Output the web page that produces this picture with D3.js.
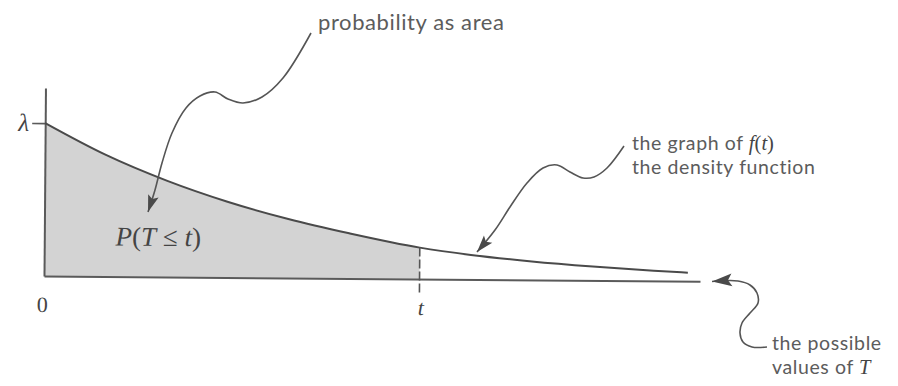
<!DOCTYPE html>
<html>
<head>
<meta charset="utf-8">
<script src="https://cdn.jsdelivr.net/npm/d3@7"></script>
<style>
  html, body { margin: 0; padding: 0; background: #fff; }
  svg { display: block; }
  .sans { font-family: Lato, "Open Sans", sans-serif; fill: #5c5c5c; letter-spacing: 0.6px; }
  .math { font-family: "Liberation Serif", "DejaVu Serif", serif; fill: #444; letter-spacing: 0; }
</style>
</head>
<body>
<svg id="chart" width="898" height="386"></svg>
<script>
// Density curve f(t) sampled along the time axis (λ = 1 at t = 0)
const curveT = [0, 0.25, 0.5, 0.75, 1.0, 1.25, 1.54, 1.75, 2.0, 2.25, 2.5, 2.64];
const curveF = [1.00, 0.795, 0.63, 0.495, 0.385, 0.295, 0.205, 0.16, 0.12, 0.09, 0.066, 0.055];
// The chosen time t that bounds the shaded probability
const tMark = 1.54;
// Axis extents
const tDomain = [0, 2.69];
const fDomain = [0, 1.23];
const lambdaValue = 1;

const svg = d3.select("#chart");

const x = d3.scaleLinear().domain(tDomain).range([44, 700]);
const y = d3.scaleLinear().domain(fDomain).range([276, 88]);

const points = curveT.map((t, i) => ({ t, f: curveF[i] }));
const shaded = points.filter(d => d.t <= tMark);
const fAtMark = curveF[curveT.indexOf(tMark)];

// Arrowhead markers
const defs = svg.append("defs");
function marker(id, len, half) {
  defs.append("marker")
    .attr("id", id)
    .attr("markerUnits", "userSpaceOnUse")
    .attr("viewBox", `${-len - 1} ${-half - 1} ${len + 2} ${2 * half + 2}`)
    .attr("refX", 0).attr("refY", 0)
    .attr("markerWidth", len + 2).attr("markerHeight", 2 * half + 2)
    .attr("orient", "auto")
    .append("path")
    .attr("d", `M0,0 L${-len},${-half} L${-len * 0.8},0 L${-len},${half} Z`)
    .attr("fill", "#4a4a4a");
}
marker("headA", 17, 5.5);
marker("headB", 20, 6.5);

// The plot sits on a very slightly tilted baseline
const plot = svg.append("g").attr("transform", `rotate(0.45, ${x(0)}, ${y(0)})`);

// Shaded area P(T <= t)
plot.append("path")
  .datum(shaded)
  .attr("d", d3.area().x(d => x(d.t)).y0(y(0)).y1(d => y(d.f)).curve(d3.curveMonotoneX))
  .attr("fill", "#d3d3d3");

// Vertical axis with the λ tick
const yAxis = plot.append("g")
  .attr("transform", `translate(${x(0)},0)`)
  .call(d3.axisLeft(y).tickValues([lambdaValue]).tickFormat(() => "λ").tickSize(13).tickSizeOuter(0).tickPadding(3));
yAxis.select(".domain").attr("stroke", "#5a5a5a").attr("stroke-width", 2);
yAxis.selectAll(".tick line").attr("stroke", "#5a5a5a").attr("stroke-width", 1.6);
yAxis.selectAll(".tick text")
  .attr("class", "math")
  .attr("font-size", 25).attr("font-style", "italic")
  .attr("fill", "#444")
  .attr("dy", "0.3em");

// Horizontal axis with 0 and t labels
const xAxis = plot.append("g")
  .attr("transform", `translate(0,${y(0)})`)
  .call(d3.axisBottom(x).tickValues([0, tMark]).tickFormat(d => d === 0 ? "0" : "t").tickSize(0).tickSizeOuter(0));
xAxis.select(".domain").attr("stroke", "#5a5a5a").attr("stroke-width", 2);
xAxis.selectAll(".tick text")
  .attr("class", "math")
  .attr("fill", "#444")
  .attr("y", 0).attr("dy", 0)
  .attr("font-size", 22)
  .attr("font-style", d => d === 0 ? "normal" : "italic")
  .attr("transform", d => d === 0 ? "translate(-2,36)" : "translate(1,36)");

// Density curve
plot.append("path")
  .datum(points)
  .attr("d", d3.line().x(d => x(d.t)).y(d => y(d.f)).curve(d3.curveMonotoneX))
  .attr("fill", "none")
  .attr("stroke", "#4a4a4a")
  .attr("stroke-width", 2);

// Dashed marker at t
plot.append("line")
  .attr("x1", x(tMark)).attr("x2", x(tMark))
  .attr("y1", y(fAtMark)).attr("y2", y(0) + 14)
  .attr("stroke", "#555").attr("stroke-width", 1.6)
  .attr("stroke-dasharray", "9,3");

// P(T ≤ t) label inside the shaded region
const pLabel = plot.append("text").attr("class", "math")
  .attr("x", 158).attr("y", 245).attr("text-anchor", "middle").attr("font-size", 27);
pLabel.append("tspan").attr("font-style", "italic").text("P");
pLabel.append("tspan").text("(");
pLabel.append("tspan").attr("font-style", "italic").text("T");
pLabel.append("tspan").text(" ≤ ");
pLabel.append("tspan").attr("font-style", "italic").text("t");
pLabel.append("tspan").text(")");

// Annotation leaders
const leader = d3.line().curve(d3.curveCatmullRom.alpha(0.5));
const leaders = [
  { pts: [[311,33],[283,78],[262,97],[243,103],[228,99],[215,92],[200,96],[186,108],[172,133],[162,163],[155,190],[148,212]], head: "headA" },
  { pts: [[624,146],[607,168],[594,177],[583,178],[570,172],[557,165],[543,168],[527,183],[510,207],[495,230],[477,252]], head: "headA" },
  { pts: [[767,347],[752,347],[743,342],[740,333],[742,323],[750,313],[758,303],[757,293],[750,285],[738,281],[712,281.5]], head: "headB" }
];
svg.selectAll("path.leader")
  .data(leaders)
  .join("path")
  .attr("class", "leader")
  .attr("d", d => leader(d.pts))
  .attr("fill", "none")
  .attr("stroke", "#555")
  .attr("stroke-width", 1.6)
  .attr("marker-end", d => `url(#${d.head})`);

// Annotation texts
const fs = 19.5, mfs = 20.5, lineGap = 24;
svg.append("text").attr("class", "sans").attr("x", 318).attr("y", 30).attr("font-size", 22)
  .text("probability as area");

// Two-line note for the curve, kept in one text block
const g1 = svg.append("text").attr("class", "sans").attr("x", 632).attr("y", 150).attr("font-size", fs);
g1.append("tspan").text("the graph of ");
g1.append("tspan").attr("class", "math").attr("font-style", "italic").attr("fill", "#444").attr("font-size", mfs).text("f");
g1.append("tspan").attr("class", "math").attr("fill", "#444").attr("font-size", mfs).text("(");
g1.append("tspan").attr("class", "math").attr("font-style", "italic").attr("fill", "#444").attr("font-size", mfs).text("t");
g1.append("tspan").attr("class", "math").attr("fill", "#444").attr("font-size", mfs).text(")");
g1.append("tspan").attr("x", 632).attr("y", 150 + lineGap).text("the density function");

// Two-line note for the time axis
const g2 = svg.append("text").attr("class", "sans").attr("x", 772).attr("y", 350).attr("font-size", fs);
g2.append("tspan").text("the possible");
g2.append("tspan").attr("x", 772).attr("y", 350 + lineGap).text("values of ");
g2.append("tspan").attr("class", "math").attr("font-style", "italic").attr("fill", "#444").attr("font-size", mfs).text("T");
</script>
</body>
</html>
